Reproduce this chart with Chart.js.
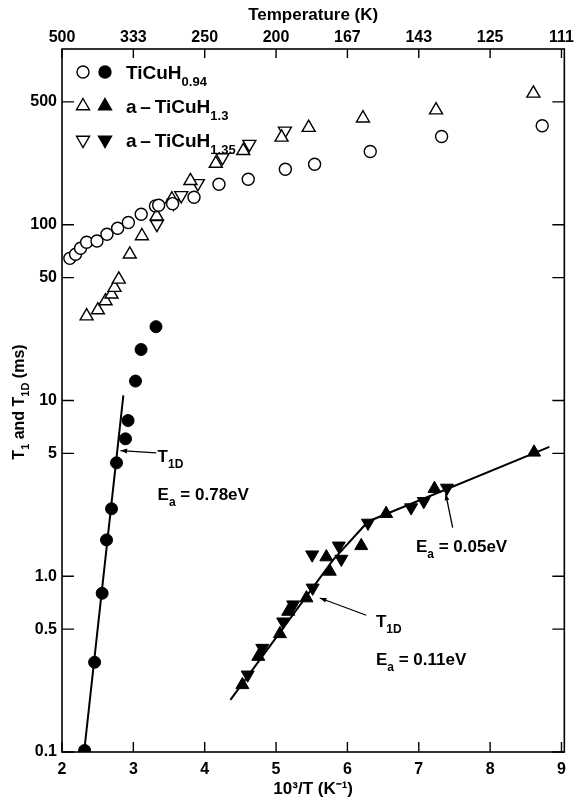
<!DOCTYPE html>
<html><head><meta charset="utf-8">
<script src="https://cdn.jsdelivr.net/npm/chart.js@4"></script>
<style>html,body{margin:0;padding:0;background:#fff}</style>
</head><body>
<canvas id="c" width="576" height="801"></canvas>
<script>
const FONT = "'Liberation Sans', Arial, sans-serif";

// ---- data (10^3/T in K^-1, times in ms) ----
const x094T1  = [2.11,2.19,2.26,2.345,2.49,2.63,2.78,2.93,3.11,3.31,3.355,3.55,3.85,4.20,4.61,5.13,5.54,6.32,7.32,8.73];
const y094T1  = [64.4,67.9,73.5,79.5,80.9,88.3,95.5,103,114.8,128,129,131.8,143.5,170,181.6,207,221,261,318,366];
const x094T1D = [2.317,2.457,2.563,2.624,2.694,2.764,2.89,2.926,3.03,3.108,3.317];
const y094T1D = [0.102,0.324,0.80,1.61,2.42,4.42,6.05,7.69,12.9,19.5,26.3];

const x13T1  = [2.345,2.503,2.61,2.694,2.736,2.796,2.95,3.12,3.327,3.54,3.80,4.155,4.54,5.077,5.457,6.218,7.242,8.606];
const y13T1  = [30.2,32.7,36.8,40.2,43.9,48.9,67.9,86.3,112,139.7,177.8,223,263.5,314,357,404,449,559];
const x13T1D = [4.528,4.751,5.054,5.17,5.426,5.705,5.753,6.194,6.543,7.22,8.616];
const y13T1D = [0.241,0.349,0.470,0.630,0.751,1.286,1.065,1.49,2.27,3.15,5.07];

const x135T1  = [3.33,3.564,3.672,3.904,4.25,4.626,5.124];
const y135T1  = [100.7,132.6,147,172,241.5,287.6,342];
const x135T1D = [4.602,4.807,5.10,5.24,5.513,5.506,5.879,5.915,6.288,6.893,7.07,7.395];
const y135T1D = [0.275,0.390,0.551,0.689,0.859,1.326,1.49,1.253,2.01,2.46,2.67,3.18];

// fitted T1D lines
const xFit094 = [2.31, 2.86];
const yFit094 = [0.1, 10.7];
const xFitA   = [4.36, 5.80, 6.29, 8.83];
const yFitA   = [0.198, 1.24, 2.05, 5.45];

// ticks
const xTicks = [2,3,4,5,6,7,8,9];
const topLabels = ['500','333','250','200','167','143','125','111'];
const yTicks = [0.1,0.5,1,5,10,50,100,500];
const yLabels = ['0.1','0.5','1.0','5','10','50','100','500'];

// annotations (data coordinates)
const arrows = [
  {from:[3.32,5.03], to:[2.82,5.19]},
  {from:[6.264,0.60], to:[5.613,0.752]},
  {from:[7.475,1.89], to:[7.377,2.95]}
];
const labels = [
  {at:[3.34,4.49], parts:[['T',0],['1D',1]]},
  {at:[3.34,2.70], parts:[['E',0],['a',1],[' = 0.78eV',0]]},
  {at:[6.40,0.515], parts:[['T',0],['1D',1]]},
  {at:[6.40,0.313], parts:[['E',0],['a',1],[' = 0.11eV',0]]},
  {at:[6.96,1.38], parts:[['E',0],['a',1],[' = 0.05eV',0]]}
];

const pts = (xs, ys) => xs.map((x,i)=>({x, y: ys[i]}));

function rich(ctx, x, y, parts, size, subSize, subDy) {
  let cx = x;
  for (const p of parts) {
    const s = p[1] ? subSize : size;
    ctx.font = `bold ${s}px ${FONT}`;
    ctx.fillText(p[0], cx, y + (p[1] ? subDy : 0));
    cx += ctx.measureText(p[0]).width;
  }
  return cx - x;
}
function richWidth(ctx, parts, size, subSize) {
  let w = 0;
  for (const p of parts) { ctx.font = `bold ${p[1]?subSize:size}px ${FONT}`; w += ctx.measureText(p[0]).width; }
  return w;
}

const open = {backgroundColor:'#fff', borderColor:'#000', borderWidth:1.4};
const fill = {backgroundColor:'#000', borderColor:'#000', borderWidth:1};

const decorPlugin = {
  id:'decor',
  afterDatasetsDraw(chart) {
    const {ctx, chartArea:{left,right,top,bottom}, scales} = chart;
    const X = scales.x, Y = scales.y;
    ctx.save();
    ctx.strokeStyle = '#000'; ctx.fillStyle = '#000';
    ctx.lineWidth = 1.6;
    ctx.strokeRect(left, top, right-left, bottom-top);
    ctx.lineWidth = 1.4;
    ctx.beginPath();
    xTicks.forEach(v => {
      const px = X.getPixelForValue(v);
      ctx.moveTo(px, bottom); ctx.lineTo(px, bottom-10);
      ctx.moveTo(px, top); ctx.lineTo(px, top+9);
    });
    yTicks.forEach(v => {
      const py = Y.getPixelForValue(v);
      ctx.moveTo(left, py); ctx.lineTo(left+12, py);
      ctx.moveTo(right, py); ctx.lineTo(right-12, py);
    });
    ctx.stroke();

    // arrows
    ctx.lineWidth = 1.3;
    arrows.forEach(a => {
      const x1 = X.getPixelForValue(a.from[0]), y1 = Y.getPixelForValue(a.from[1]);
      const x2 = X.getPixelForValue(a.to[0]), y2 = Y.getPixelForValue(a.to[1]);
      ctx.beginPath(); ctx.moveTo(x1,y1); ctx.lineTo(x2,y2); ctx.stroke();
      const ang = Math.atan2(y2-y1, x2-x1), L = 7, W = 0.35;
      ctx.beginPath();
      ctx.moveTo(x2,y2);
      ctx.lineTo(x2 - L*Math.cos(ang-W), y2 - L*Math.sin(ang-W));
      ctx.lineTo(x2 - L*Math.cos(ang+W), y2 - L*Math.sin(ang+W));
      ctx.closePath(); ctx.fill();
    });

    // annotation labels
    ctx.textBaseline = 'alphabetic'; ctx.textAlign = 'left';
    labels.forEach(l => {
      rich(ctx, X.getPixelForValue(l.at[0]), Y.getPixelForValue(l.at[1]), l.parts, 17, 12, 6);
    });

    // legend
    const H = Chart.helpers;
    const rows = [
      {y:72, style:'circle', rot:0, r:6, parts:[['TiCuH',0],['0.94',1]]},
      {y:106, style:'triangle', rot:0, r:7.5, parts:[['a\u2009\u2013\u2009TiCuH',0],['1.3',1]]},
      {y:140, style:'triangle', rot:180, r:7.5, parts:[['a\u2009\u2013\u2009TiCuH',0],['1.35',1]]}
    ];
    rows.forEach(r => {
      ctx.lineWidth = 1.4; ctx.strokeStyle = '#000';
      ctx.fillStyle = '#fff';
      H.drawPoint(ctx, {pointStyle:r.style, radius:r.r, rotation:r.rot, borderWidth:1.4}, left+21, r.y);
      ctx.fillStyle = '#000';
      H.drawPoint(ctx, {pointStyle:r.style, radius:r.r, rotation:r.rot, borderWidth:1}, left+43, r.y);
      ctx.fillStyle = '#000';
      rich(ctx, left+64, r.y+7, r.parts, 19, 13, 7);
    });

    // y-axis title (rotated)
    const tparts = [['T',0],['1',1],[' and T',0],['1D',1],[' (ms)',0]];
    ctx.translate(19, 402);
    ctx.rotate(-Math.PI/2);
    const w = richWidth(ctx, tparts, 16, 11);
    rich(ctx, -w/2, 5, tparts, 16, 11, 5);
    ctx.restore();
  }
};

new Chart(document.getElementById('c'), {
  type: 'scatter',
  data: {
    datasets: [
      {label:'TiCuH0.94 T1', data: pts(x094T1, y094T1), pointStyle:'circle', pointRadius:6, ...open},
      {label:'TiCuH0.94 T1D', data: pts(x094T1D, y094T1D), pointStyle:'circle', pointRadius:6, ...fill},
      {label:'a-TiCuH1.3 T1', data: pts(x13T1, y13T1), pointStyle:'triangle', pointRadius:7.5, ...open},
      {label:'a-TiCuH1.3 T1D', data: pts(x13T1D, y13T1D), pointStyle:'triangle', pointRadius:7.5, ...fill},
      {label:'a-TiCuH1.35 T1', data: pts(x135T1, y135T1), pointStyle:'triangle', rotation:180, pointRadius:7.5, ...open},
      {label:'a-TiCuH1.35 T1D', data: pts(x135T1D, y135T1D), pointStyle:'triangle', rotation:180, pointRadius:7.5, ...fill},
      {label:'fit 0.78eV', data: pts(xFit094, yFit094), showLine:true, pointRadius:0, borderColor:'#000', borderWidth:2},
      {label:'fit 0.11/0.05eV', data: pts(xFitA, yFitA), showLine:true, pointRadius:0, borderColor:'#000', borderWidth:2}
    ]
  },
  options: {
    responsive:false, animation:false, devicePixelRatio:1,
    layout:{padding:{left:0,right:10,top:0,bottom:0}},
    plugins:{legend:{display:false}, tooltip:{enabled:false}},
    scales:{
      x:{
        type:'linear', position:'bottom', min:2, max:9.04,
        afterBuildTicks: s => { s.ticks = xTicks.map(v=>({value:v})); },
        afterFit: s => { s.height = 49; },
        grid:{display:false, drawTicks:false}, border:{display:false},
        ticks:{padding:8, color:'#000', font:{family:FONT, size:16, weight:'bold'}, callback:v=>String(v)},
        title:{display:true, text:'10³/T (K⁻¹)', color:'#000', padding:{top:0,bottom:1}, font:{family:FONT, size:17, weight:'bold'}}
      },
      x2:{
        type:'linear', position:'top', min:2, max:9.04,
        afterBuildTicks: s => { s.ticks = xTicks.map(v=>({value:v})); },
        afterFit: s => { s.height = 49; },
        grid:{display:false, drawTicks:false}, border:{display:false},
        ticks:{padding:2, color:'#000', font:{family:FONT, size:16, weight:'bold'}, callback:(v,i)=>topLabels[i]},
        title:{display:true, text:'Temperature (K)', color:'#000', padding:{top:5,bottom:0}, font:{family:FONT, size:17, weight:'bold'}}
      },
      y:{
        type:'logarithmic', position:'left', min:0.1, max:1000,
        afterBuildTicks: s => { s.ticks = yTicks.map(v=>({value:v})); },
        afterFit: s => { s.width = 62; },
        grid:{display:false, drawTicks:false}, border:{display:false},
        ticks:{padding:5, color:'#000', font:{family:FONT, size:16, weight:'bold'}, callback:(v,i)=>yLabels[i]}
      }
    }
  },
  plugins:[decorPlugin]
});
</script>
</body></html>
